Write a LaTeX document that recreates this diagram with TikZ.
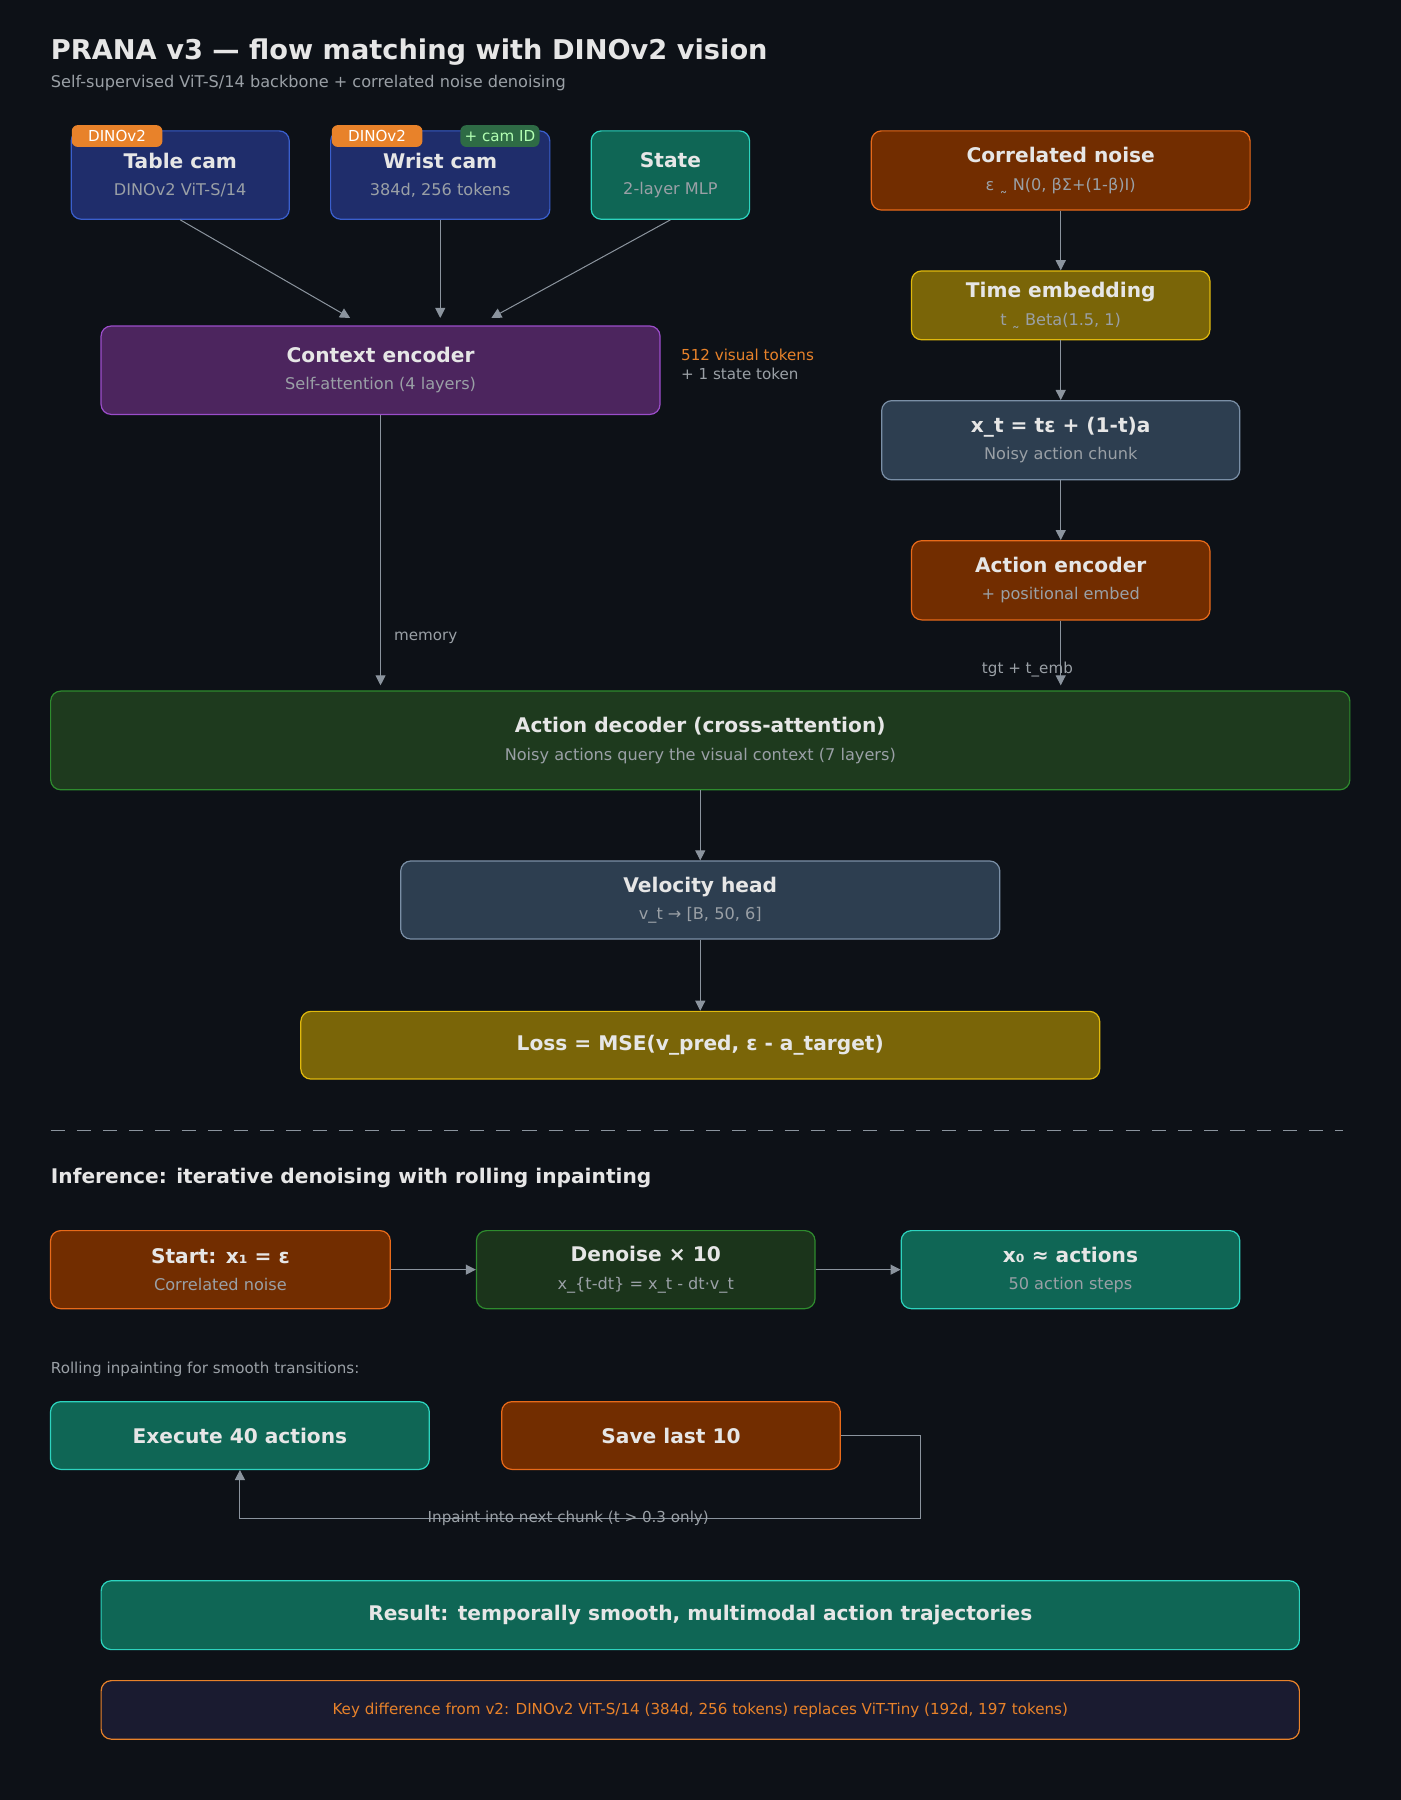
\documentclass[tikz,border=0pt]{standalone}
\usepackage{fontspec}
\setmainfont{DejaVu Sans}
\usetikzlibrary{arrows.meta}
\definecolor{bg}{HTML}{0D1117}
\definecolor{txt}{HTML}{E6E6E6}
\definecolor{subt}{HTML}{9AA0A6}
\definecolor{wire}{HTML}{8B949E}
\definecolor{camF}{HTML}{1F2D6B}\definecolor{camD}{HTML}{3A5FCD}
\definecolor{tealF}{HTML}{0F6655}\definecolor{tealD}{HTML}{2DD4BF}
\definecolor{rustF}{HTML}{722D00}\definecolor{rustD}{HTML}{E86A1A}
\definecolor{goldF}{HTML}{7A6508}\definecolor{goldD}{HTML}{E0B90D}
\definecolor{slateF}{HTML}{2D3E50}\definecolor{slateD}{HTML}{7A8FA6}
\definecolor{plumF}{HTML}{4C255E}\definecolor{plumD}{HTML}{9B4DCA}
\definecolor{leafF}{HTML}{1E3A1E}\definecolor{leafD}{HTML}{2E8B2E}
\definecolor{navyF}{HTML}{1A1B30}
\definecolor{badge}{HTML}{E8822A}
\definecolor{camid}{HTML}{2E6B45}
\newcommand{\btxt}[2]{{\fontsize{10}{12}\selectfont\bfseries #1}\\[1.5pt]{\color{subt}\fontsize{8}{10}\selectfont #2}}
\tikzset{
  blk/.style={draw, rounded corners=5pt, line width=0.6pt, text=txt, align=center, inner sep=0pt},
  cam/.style={blk, fill=camF, draw=camD},
  teal/.style={blk, fill=tealF, draw=tealD},
  rust/.style={blk, fill=rustF, draw=rustD},
  gold/.style={blk, fill=goldF, draw=goldD},
  slate/.style={blk, fill=slateF, draw=slateD},
  plum/.style={blk, fill=plumF, draw=plumD},
  leaf/.style={blk, fill=leafF, draw=leafD},
  tag/.style={rounded corners=3pt, inner sep=0pt, minimum height=0.38cm, font=\fontsize{7.5}{9}\selectfont},
  note/.style={font=\fontsize{7.5}{9}\selectfont, text=subt, inner sep=0pt},
  flow/.style={draw=wire, line width=0.5pt, -{Triangle[length=5pt,width=5pt]}}
}
\begin{document}
\begin{tikzpicture}[x=0.02cm,y=-0.02cm]
\fill[bg] (0,0) rectangle (1220,1568);
\useasboundingbox (0,0) rectangle (1220,1568);
% heading
\node[anchor=west, text=txt, font=\fontsize{13.5}{16}\selectfont\bfseries, inner sep=0pt] (title) at (44,45) {PRANA v3 — flow matching with DINOv2 vision};
\node[anchor=west, note, font=\fontsize{8}{10}\selectfont] (subtitle) at (44,72) {Self-supervised ViT-S/14 backbone + correlated noise denoising};
% inputs
\node[cam, minimum width=3.8cm, minimum height=1.54cm] (tcam) at (157,152.5) {\btxt{Table cam}{DINOv2 ViT-S/14}};
\node[cam, minimum width=3.82cm, minimum height=1.54cm] (wcam) at (383.5,152.5) {\btxt{Wrist cam}{384d, 256 tokens}};
\node[teal, minimum width=2.76cm, minimum height=1.54cm] (state) at (584,152.5) {\btxt{State}{2-layer MLP}};
\node[tag, fill=badge, text=white, minimum width=1.58cm] (tbadge) at (102,118.5) {DINOv2};
\node[tag, fill=badge, text=white, minimum width=1.58cm] (wbadge) at (328.5,118.5) {DINOv2};
\node[tag, fill=camid, text=green!30!white, minimum width=1.38cm] (cbadge) at (435.5,118.5) {+ cam ID};
% context
\node[plum, minimum width=9.74cm, minimum height=1.54cm] (ctx) at (331.5,322.5) {\btxt{Context encoder}{Self-attention (4 layers)}};
\node[anchor=west, note, text=badge] (vis) at (593,309) {512 visual tokens};
\node[anchor=west, note] (stok) at (593,326) {+ 1 state token};
\coordinate (in1) at (305,277);
\coordinate (in2) at (383.5,277);
\coordinate (in3) at (428,277);
\draw[flow] (tcam.south) -- (in1);
\draw[flow] (wcam.south) -- (in2);
\draw[flow] (state.south) -- (in3);
% noise branch
\node[rust, minimum width=6.6cm, minimum height=1.38cm] (noise) at (924,148.5) {\btxt{Correlated noise}{ε \texttildelow{} N(0, βΣ+(1-β)I)}};
\node[gold, minimum width=5.2cm, minimum height=1.2cm] (time) at (924,266) {\btxt{Time embedding}{t \texttildelow{} Beta(1.5, 1)}};
\node[slate, minimum width=6.24cm, minimum height=1.38cm] (xt) at (924,383.5) {\btxt{x\_t = tε + (1-t)a}{Noisy action chunk}};
\node[rust, minimum width=5.2cm, minimum height=1.38cm] (aenc) at (924,505.5) {\btxt{Action encoder}{+ positional embed}};
\draw[flow] (noise) -- (time);
\draw[flow] (time) -- (xt);
\draw[flow] (xt) -- (aenc);
% decoder
\node[leaf, minimum width=22.64cm, minimum height=1.72cm] (dec) at (610,645) {\btxt{Action decoder (cross-attention)}{Noisy actions query the visual context (7 layers)}};
\coordinate (mem) at (331.5,597);
\coordinate (tgt) at (924,597);
\draw[flow] (ctx.south) -- (mem);
\node[anchor=west, note] (memlbl) at (343,556) {memory};
\draw[flow] (aenc.south) -- (tgt);
\node[note] (tgtlbl) at (895,583) {tgt + t\_emb};
\node[slate, minimum width=10.44cm, minimum height=1.36cm] (vel) at (610,784) {\btxt{Velocity head}{v\_t → [B, 50, 6]}};
\node[gold, minimum width=13.92cm, minimum height=1.18cm, font=\fontsize{10}{12}\selectfont\bfseries] (loss) at (610,910.5) {Loss = MSE(v\_pred, ε - a\_target)};
\draw[flow] (dec) -- (vel);
\draw[flow] (vel) -- (loss);
% inference
\draw[wire, line width=0.6pt, dash pattern=on 7pt off 6pt] (44,985) -- (1170,985);
\node[anchor=west, text=txt, font=\fontsize{10}{12}\selectfont\bfseries, inner sep=0pt] (inf) at (44,1026) {Inference: iterative denoising with rolling inpainting};
\node[rust, minimum width=5.92cm, minimum height=1.36cm] (start) at (192,1106) {\btxt{Start: x₁ = ε}{Correlated noise}};
\node[leaf, fill=leafF!90!black, minimum width=5.9cm, minimum height=1.36cm] (den) at (562.5,1106) {\btxt{Denoise × 10}{x\_\{t-dt\} = x\_t - dt·v\_t}};
\node[teal, minimum width=5.9cm, minimum height=1.36cm] (x0) at (932.5,1106) {\btxt{x₀ ≈ actions}{50 action steps}};
\draw[flow] (start) -- (den);
\draw[flow] (den) -- (x0);
\node[anchor=west, note] (roll) at (44,1193) {Rolling inpainting for smooth transitions:};
\node[teal, minimum width=6.6cm, minimum height=1.18cm, font=\fontsize{10}{12}\selectfont\bfseries] (exec) at (209,1250.5) {Execute 40 actions};
\node[rust, minimum width=5.9cm, minimum height=1.18cm, font=\fontsize{10}{12}\selectfont\bfseries] (save) at (584.5,1250.5) {Save last 10};
\coordinate (loopR) at (802,1323);
\draw[flow] (save.east) -| (loopR) -| (exec.south);
\node[note] (inp) at (495,1323) {Inpaint into next chunk (t > 0.3 only)};
% result
\node[teal, minimum width=20.88cm, minimum height=1.2cm, font=\fontsize{10}{12}\selectfont\bfseries] (res) at (610,1407) {Result: temporally smooth, multimodal action trajectories};
\node[blk, fill=navyF, draw=badge, text=badge, minimum width=20.88cm, minimum height=1.02cm, font=\fontsize{7.5}{9}\selectfont] (key) at (610,1489.5) {Key difference from v2: DINOv2 ViT-S/14 (384d, 256 tokens) replaces ViT-Tiny (192d, 197 tokens)};
\end{tikzpicture}
\end{document}
